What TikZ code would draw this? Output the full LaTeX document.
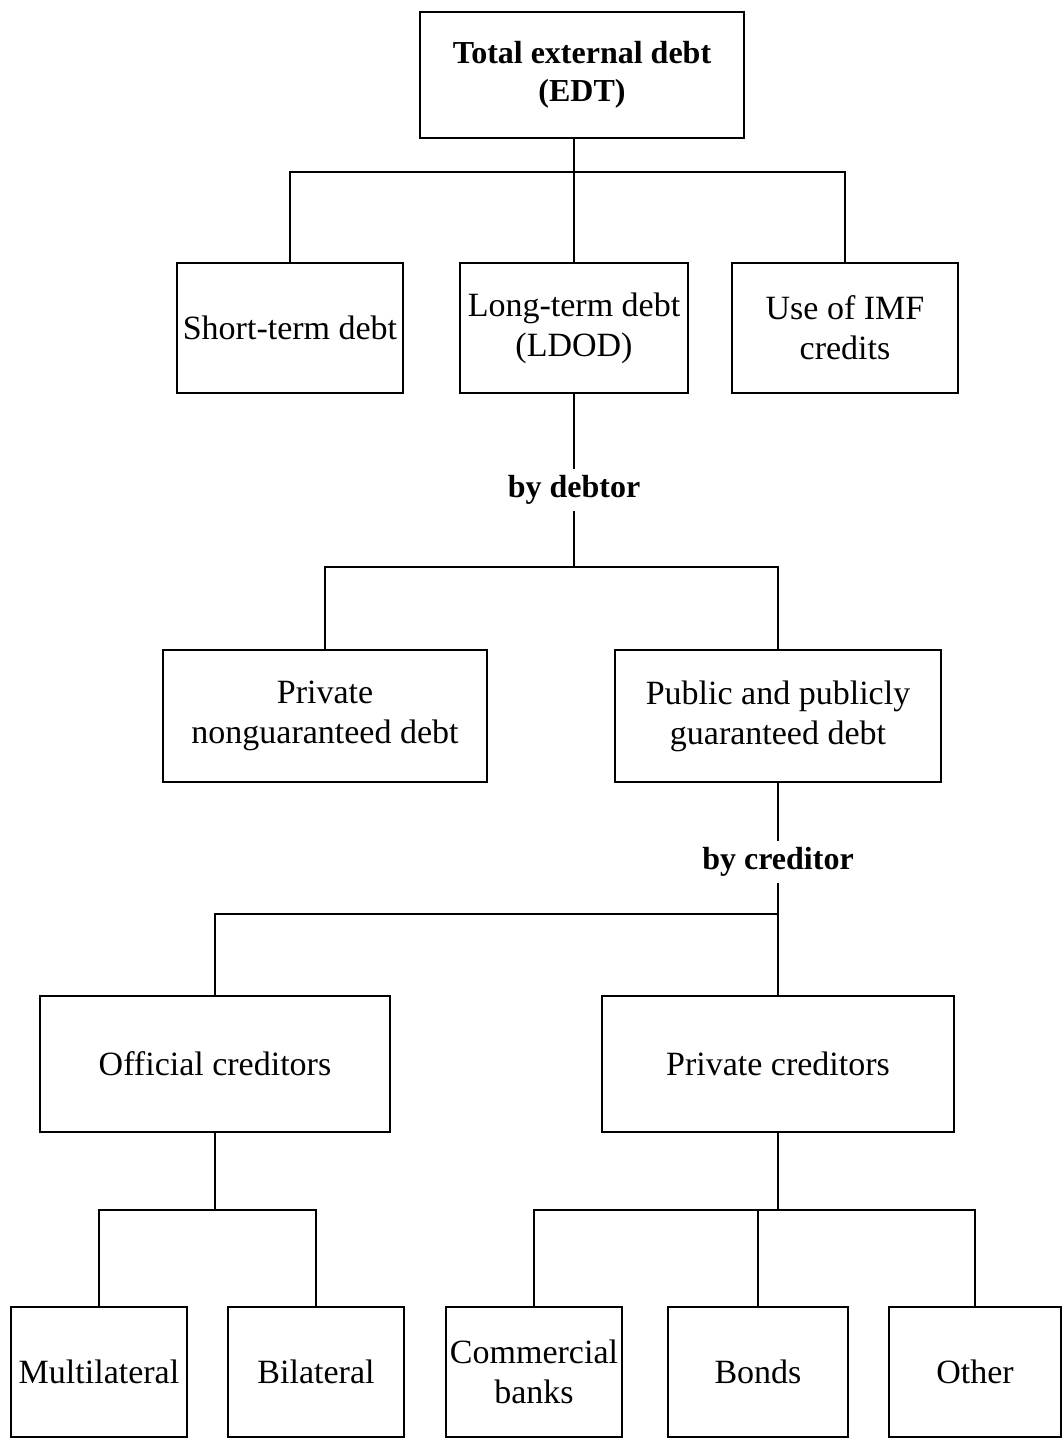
\documentclass[tikz,border=0pt]{standalone}
\usepackage{fontspec}
\setmainfont{Liberation Serif}
\usepackage{tikz}
\usetikzlibrary{calc}
\tikzstyle{box} = [rectangle, minimum height=65pt, text centered, align=center, draw=black, line width=1.4pt, font=\fontsize{17}{20}\selectfont, inner sep=2pt]
\tikzstyle{lbl} = [font=\fontsize{16}{19}\selectfont\bfseries, inner sep=3pt]
\tikzstyle{line} = [line width=1.4pt]

\begin{document}
\begin{tikzpicture}[x=0.5pt,y=-0.5pt]
\useasboundingbox (0,0) rectangle (1062,1446);
\node (edt) [box, minimum width=162pt, minimum height=63pt, font=\fontsize{16}{19}\selectfont\bfseries] at (582,75) {Total external debt\\(EDT)};
\node (short) [box, minimum width=113pt] at (290,328) {Short-term debt};
\node (ldod) [box, minimum width=114pt] at (574,328) {Long-term debt\\(LDOD)};
\node (imf) [box, minimum width=113pt] at (845,328) {Use of IMF\\credits};
\node (bydebtor) [lbl] at (574,490) {by debtor};
\node (privng) [box, minimum width=162pt, minimum height=66pt] at (325,716) {Private\\nonguaranteed debt};
\node (public) [box, minimum width=163pt, minimum height=66pt] at (778,716) {Public and publicly\\guaranteed debt};
\node (bycred) [lbl] at (778,862) {by creditor};
\node (official) [box, minimum width=175pt, minimum height=68pt] at (215,1064) {Official creditors};
\node (prcred) [box, minimum width=176pt, minimum height=68pt] at (778,1064) {Private creditors};
\node (multi) [box, minimum width=88pt] at (99,1372) {Multilateral};
\node (bilat) [box, minimum width=88pt] at (316,1372) {Bilateral};
\node (banks) [box, minimum width=88pt] at (534,1372) {Commercial\\banks};
\node (bonds) [box, minimum width=90pt] at (758,1372) {Bonds};
\node (other) [box, minimum width=86pt] at (975,1372) {Other};
\coordinate (bus1) at (0,172);
\coordinate (bus2) at (0,567);
\coordinate (bus3) at (0,914);
\coordinate (bus4) at (0,1210);
\draw [line] (ldod.north |- edt.south) -- (ldod.north);
\draw [line] (short.north) |- (imf.north |- bus1) -- (imf.north);
\draw [line] (ldod.south) -- (bydebtor.north);
\draw [line] (bydebtor.south) -- (bydebtor |- bus2);
\draw [line] (privng.north) |- (public.north |- bus2) -- (public.north);
\draw [line] (public.south) -- (bycred.north);
\draw [line] (bycred.south) -- (bycred |- bus3);
\draw [line] (official.north) |- (prcred.north |- bus3) -- (prcred.north);
\draw [line] (official.south) -- (official.south |- bus4);
\draw [line] (multi.north) |- (bilat.north |- bus4) -- (bilat.north);
\draw [line] (prcred.south) -- (prcred.south |- bus4);
\draw [line] (banks.north) |- (other.north |- bus4) -- (other.north);
\draw [line] (bonds.north) -- (bonds.north |- bus4);
\end{tikzpicture}
\end{document}
